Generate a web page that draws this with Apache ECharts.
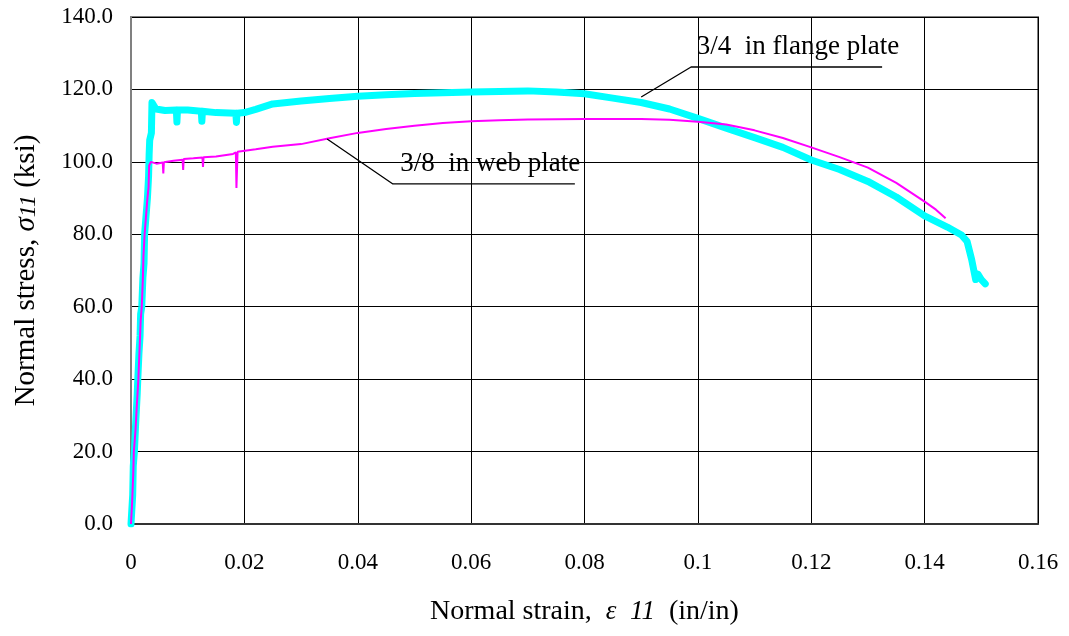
<!DOCTYPE html>
<html>
<head>
<meta charset="utf-8">
<script src="https://cdn.jsdelivr.net/npm/echarts@6/dist/echarts.min.js"></script>
<style>
html,body{margin:0;padding:0;background:#fff;}
#chart{width:1069px;height:636px;}
</style>
</head>
<body>
<div id="chart"></div>
<script>
// ---- Data ----
const flangeStrain = [0,0.0003,0.0004,0.0006,0.0008,0.0009,0.0011,0.0012,0.0014,0.0016,0.0017,0.0019,0.0021,0.0023,0.0024,0.0027,0.0029,0.0031,0.0032,0.0033,0.0036,0.0037,0.0040,0.0044,0.0060,0.0080,0.0081,0.0082,0.0100,0.0124,0.0125,0.0126,0.0150,0.0185,0.0186,0.0187,0.020,0.022,0.025,0.030,0.035,0.040,0.045,0.050,0.055,0.060,0.065,0.070,0.075,0.080,0.085,0.090,0.095,0.100,0.105,0.110,0.115,0.120,0.125,0.130,0.135,0.140,0.144,0.1465,0.1475,0.1483,0.1490,0.1494,0.1500,0.1507];
const flangeStress = [0,8,16,20,27,30,36,40,47,52,58,60,68,72,80,86,90,96,102,106,108,116.4,116.6,114.6,114.2,114.3,111.0,114.3,114.3,114.0,111.2,114.0,113.6,113.4,110.9,113.4,113.6,114.5,116.0,116.8,117.5,118.1,118.5,118.9,119.1,119.3,119.4,119.6,119.3,118.8,117.6,116.4,114.6,112.0,109.3,106.7,104.0,100.5,97.9,94.6,90.3,85.1,82.0,79.8,78.0,73.0,67.5,69.0,67.5,66.3];

const webStrain = [0,0.0002,0.0004,0.0005,0.0008,0.0010,0.0013,0.0015,0.0017,0.0019,0.0021,0.0022,0.0024,0.0027,0.0029,0.0031,0.0032,0.0035,0.0045,0.0056,0.0057,0.0058,0.0075,0.0091,0.0092,0.0093,0.011,0.0126,0.0127,0.0128,0.015,0.018,0.0185,0.0186,0.0188,0.019,0.022,0.025,0.030,0.035,0.040,0.045,0.050,0.055,0.060,0.065,0.070,0.080,0.090,0.095,0.100,0.105,0.110,0.115,0.120,0.125,0.130,0.135,0.140,0.142,0.1437];
const webStress = [0,6,14,20,26,32,40,48,56,60,68,74,80,86,90,93,99,100,99.5,99.8,96.8,99.9,100.3,100.6,97.8,100.8,101,101.2,98.6,101.3,101.5,102.2,102.6,92.8,102.8,103,103.5,104.2,104.9,106.5,108,109.1,110,110.7,111.2,111.5,111.7,111.8,111.8,111.6,111.1,110.3,108.7,106.6,104.0,101.3,98.4,94.2,89.0,86.8,84.4];

// annotation leaders (data units)
const flangeLeaderX = [0.0900, 0.0988, 0.1325];
const flangeLeaderY = [117.9, 126.2, 126.2];
const webLeaderX = [0.0346, 0.0462, 0.0783];
const webLeaderY = [106.3, 93.9, 93.9];
const flangeLabel = '3/4  in flange plate';
const webLabel = '3/8  in web plate';
const flangeLabelAt = [0.0998, 131.8];
const webLabelAt = [0.0475, 99.5];

const xTicks = {min: 0, max: 0.16, interval: 0.02};
const yTicks = {min: 0, max: 140, interval: 20};

const zip = (a, b) => a.map((v, i) => [v, b[i]]);
const FONT = "'Liberation Serif','Times New Roman',serif";

const chart = echarts.init(document.getElementById('chart'), null, {renderer: 'canvas'});
const option = {
  animation: false,
  backgroundColor: '#ffffff',
  grid: {left: 131, right: 31, top: 17, bottom: 112, show: true, borderColor: '#808080', borderWidth: 2, backgroundColor: 'transparent'},
  xAxis: {
    type: 'value', min: xTicks.min, max: xTicks.max, interval: xTicks.interval,
    axisLine: {show: true, lineStyle: {color: '#333', width: 2}},
    axisTick: {show: false},
    splitLine: {show: true, lineStyle: {color: '#000', width: 1}},
    axisLabel: {fontFamily: FONT, fontSize: 23, color: '#000', margin: 27,
      formatter: v => v === 0 ? '0' : String(+v.toFixed(2))},
    name: '{n|Normal strain,  }{i|ε  11}{n|  (in/in)}',
    nameLocation: 'middle', nameGap: 74,
    nameTextStyle: {rich: {
      n: {fontFamily: FONT, fontSize: 28, color: '#000'},
      i: {fontFamily: FONT, fontSize: 27, fontStyle: 'italic', color: '#000'}
    }}
  },
  yAxis: {
    type: 'value', min: yTicks.min, max: yTicks.max, interval: yTicks.interval,
    axisLine: {show: true, lineStyle: {color: '#808080', width: 2}},
    axisTick: {show: false},
    splitLine: {show: true, lineStyle: {color: '#000', width: 1}},
    axisLabel: {fontFamily: FONT, fontSize: 23, color: '#000', margin: 18,
      formatter: v => v.toFixed(1)},
    name: '{n|Normal stress, }{i|σ}{s|11}{n| (ksi)}',
    nameLocation: 'middle', nameGap: 90, nameRotate: 90,
    nameTextStyle: {rich: {
      n: {fontFamily: FONT, fontSize: 29, color: '#000'},
      i: {fontFamily: FONT, fontSize: 29, fontStyle: 'italic', color: '#000'},
      s: {fontFamily: FONT, fontSize: 24, fontStyle: 'italic', color: '#000', padding: [6, 0, 0, 0]}
    }}
  },
  series: [
    {type: 'line', name: 'flange', data: zip(flangeStrain, flangeStress), showSymbol: false, symbol: 'none',
      lineStyle: {color: '#00FFFF', width: 7, cap: 'round', join: 'round'}, z: 2},
    {type: 'line', name: 'web', data: zip(webStrain, webStress), showSymbol: false, symbol: 'none',
      lineStyle: {color: '#FF00FF', width: 2}, z: 3},
    {type: 'line', name: 'lead1', data: zip(flangeLeaderX, flangeLeaderY), showSymbol: false, symbol: 'none', silent: true,
      lineStyle: {color: '#000', width: 1.3}, z: 4},
    {type: 'line', name: 'lead2', data: zip(webLeaderX, webLeaderY), showSymbol: false, symbol: 'none', silent: true,
      lineStyle: {color: '#000', width: 1.3}, z: 4}
  ]
};
chart.setOption(option);

const p1 = chart.convertToPixel({gridIndex: 0}, flangeLabelAt);
const p2 = chart.convertToPixel({gridIndex: 0}, webLabelAt);
chart.setOption({
  graphic: [
    {type: 'text', x: p1[0], y: p1[1], z: 10, style: {text: flangeLabel, fontFamily: FONT, fontSize: 27, fill: '#000', textAlign: 'left', textVerticalAlign: 'middle'}},
    {type: 'text', x: p2[0], y: p2[1], z: 10, style: {text: webLabel, fontFamily: FONT, fontSize: 27, fill: '#000', textAlign: 'left', textVerticalAlign: 'middle'}}
  ]
});
</script>
</body>
</html>
